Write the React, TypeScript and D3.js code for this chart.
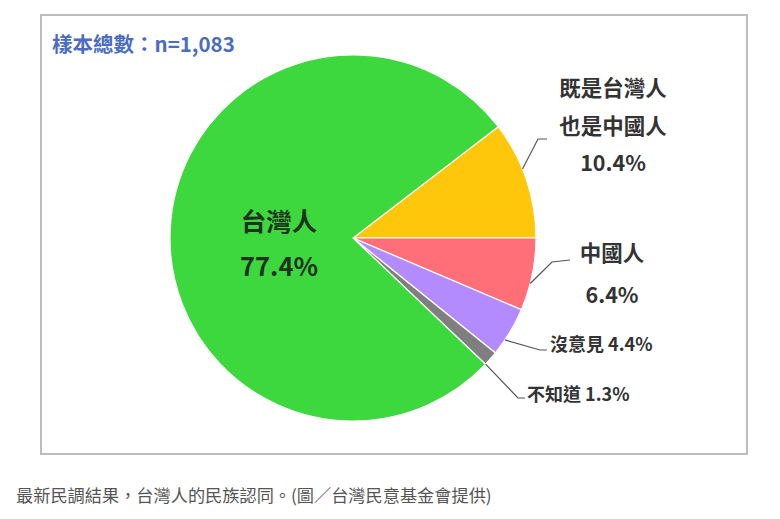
import React, { useEffect, useRef } from 'react';
import * as d3 from 'd3';

// survey result, n=1,083
const categories = ['既是台灣人也是中國人', '中國人', '沒意見', '不知道', '台灣人'];
const values = [10.4, 6.4, 4.4, 1.3, 77.4];
const colors = ['#ffc70b', '#ff6f78', '#b48bff', '#7f7f7f', '#3dd83d'];
const labelLines = [
  ['既是台灣人', '也是中國人', '10.4%'],
  ['中國人', '6.4%'],
  ['沒意見 4.4%'],
  ['不知道 1.3%'],
  ['台灣人', '77.4%'],
];
const sampleText = '樣本總數：n=1,083';
const caption = '最新民調結果，台灣人的民族認同。(圖／台灣民意基金會提供)';

const W = 780;
const H = 519;
const FONT = '"Noto Sans CJK TC", "Noto Sans", sans-serif';

const App: React.FC = () => {
  const ref = useRef<SVGSVGElement>(null);

  useEffect(() => {
    const svg = d3.select(ref.current);
    svg.selectAll('*').remove();

    // frame
    svg.append('rect')
      .attr('x', 41).attr('y', 15)
      .attr('width', 706).attr('height', 439)
      .attr('fill', '#fff')
      .attr('stroke', '#bdbdbd')
      .attr('stroke-width', 2);

    svg.append('text')
      .attr('x', 52).attr('y', 52)
      .attr('fill', '#4b6cc0')
      .attr('font-size', 20.5)
      .attr('font-weight', 'bold')
      .text(sampleText);

    const cx = 353, cy = 238, r = 183;
    const total = d3.sum(values);
    const start = Math.PI / 2 - (values[0] / total) * 2 * Math.PI;

    const pie = d3.pie<number>().sort(null).value(d => d)
      .startAngle(start).endAngle(start + 2 * Math.PI);
    const arcs = pie(values);
    const arc = d3.arc<d3.PieArcDatum<number>>().innerRadius(0).outerRadius(r);

    const g = svg.append('g').attr('transform', `translate(${cx},${cy})`);
    g.selectAll('path.slice')
      .data(arcs)
      .enter()
      .append('path')
      .attr('class', 'slice')
      .attr('d', arc)
      .attr('fill', (_, i) => colors[i])
      .attr('stroke', '#fff')
      .attr('stroke-width', 1.2);

    // leader lines from slice edge to label
    const leaders: { off: number; elbow: [number, number]; end: [number, number] }[] = [
      { off: -0.06, elbow: [538, 139], end: [547, 139] },
      { off: 0.05, elbow: [552, 262], end: [570, 260] },
      { off: 0.05, elbow: [540, 350], end: [547, 350] },
      { off: 0.04, elbow: [518, 398], end: [525, 398] },
    ];
    leaders.forEach((l, i) => {
      const a = (arcs[i].startAngle + arcs[i].endAngle) / 2 + l.off;
      const sx = cx + Math.sin(a) * r;
      const sy = cy - Math.cos(a) * r;
      svg.append('polyline')
        .attr('points', `${sx},${sy} ${l.elbow[0]},${l.elbow[1]} ${l.end[0]},${l.end[1]}`)
        .attr('fill', 'none')
        .attr('stroke', '#555')
        .attr('stroke-width', 1.2);
    });

    const labelPos: { x: number; y: number; dy: number; size: number; anchor: string }[] = [
      { x: 613, y: 96, dy: 37.5, size: 21.5, anchor: 'middle' },
      { x: 612, y: 261, dy: 42, size: 21.5, anchor: 'middle' },
      { x: 550, y: 351, dy: 0, size: 18, anchor: 'start' },
      { x: 527, y: 401, dy: 0, size: 18, anchor: 'start' },
      { x: 279, y: 231, dy: 45, size: 25.5, anchor: 'middle' },
    ];
    labelLines.forEach((lines, i) => {
      const p = labelPos[i];
      lines.forEach((t, j) => {
        svg.append('text')
          .attr('x', p.x)
          .attr('y', p.y + j * p.dy)
          .attr('text-anchor', p.anchor)
          .attr('font-size', p.size)
          .attr('font-weight', 'bold')
          .attr('fill', i === 4 ? '#1d331d' : '#333')
          .text(t);
      });
    });

    svg.append('text')
      .attr('x', 16).attr('y', 502)
      .attr('font-size', 17.2)
      .attr('fill', '#555')
      .text(caption);
  }, []);

  return (
    <div style={{ position: 'absolute', left: 0, top: 0 }}>
      <svg ref={ref} width={W} height={H} style={{ fontFamily: FONT, display: 'block', background: '#fff' }} />
    </div>
  );
};

export default App;
